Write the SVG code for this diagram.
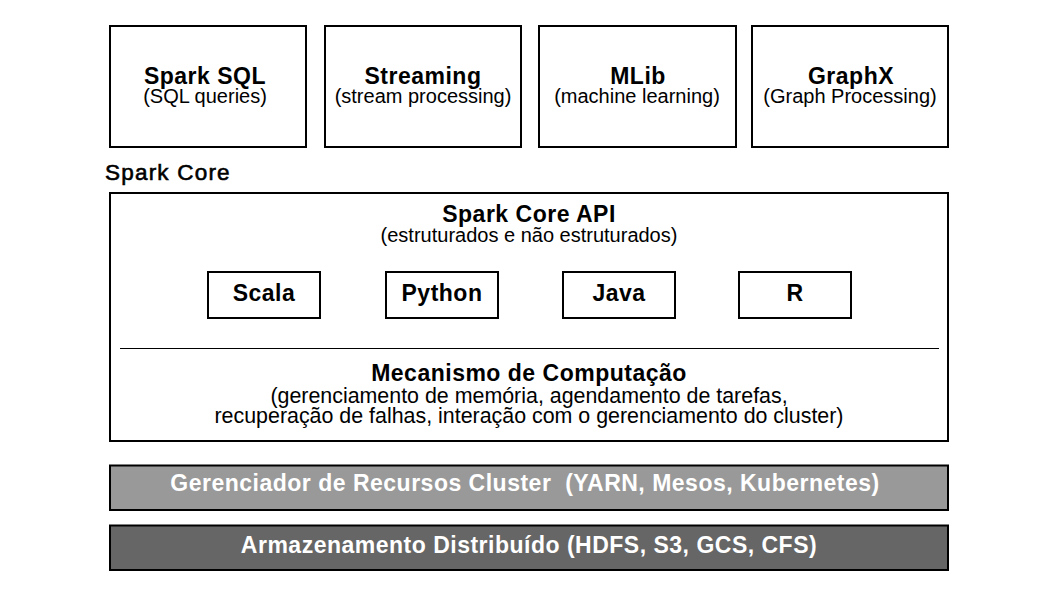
<svg xmlns="http://www.w3.org/2000/svg" width="1058" height="595" viewBox="0 0 1058 595">
<style>
.box{fill:#fff;stroke:#000;stroke-width:2}
.t{font-family:"Liberation Sans",Arial,sans-serif;font-size:23px;font-weight:bold;letter-spacing:0.5px;text-anchor:middle;fill:#000}
.s{font-family:"Liberation Sans",Arial,sans-serif;font-size:20px;text-anchor:middle;fill:#000}
.m{font-size:21.4px}
.w{fill:#fff;white-space:pre}
</style>
<rect width="1058" height="595" fill="#fff"/>
<g id="spark-sql">
<rect class="box" x="110" y="26" width="196" height="121"/>
<text class="t" x="205" y="84">Spark SQL</text>
<text class="s" x="205" y="103">(SQL queries)</text>
</g>
<g id="streaming">
<rect class="box" x="325" y="26" width="196" height="121"/>
<text class="t" x="423" y="84">Streaming</text>
<text class="s" x="423" y="103">(stream processing)</text>
</g>
<g id="mlib">
<rect class="box" x="539" y="26" width="197" height="121"/>
<text class="t" x="638" y="84">MLib</text>
<text class="s" x="637" y="103">(machine learning)</text>
</g>
<g id="graphx">
<rect class="box" x="752" y="26" width="196" height="121"/>
<text class="t" x="851" y="84">GraphX</text>
<text class="s" x="850" y="103">(Graph Processing)</text>
</g>
<g id="spark-core-label">
<text x="105" y="180" font-family="Liberation Sans,Arial,sans-serif" font-size="22.5" letter-spacing="1.2" stroke="#000" stroke-width="0.6" fill="#000">Spark Core</text>
</g>
<g id="spark-core">
<rect class="box" x="110" y="193" width="838" height="248"/>
<text class="t" x="529" y="222">Spark Core API</text>
<text class="s" x="529" y="242">(estruturados e não estruturados)</text>
<line x1="120" y1="348.5" x2="939" y2="348.5" stroke="#000" stroke-width="1"/>
<text class="t" x="529" y="381">Mecanismo de Computação</text>
<text class="s m" x="529" y="403">(gerenciamento de memória, agendamento de tarefas,</text>
<text class="s m" x="529" y="423">recuperação de falhas, interação com o gerenciamento do cluster)</text>
</g>
<g id="scala">
<rect class="box" x="208" y="272" width="112" height="46"/>
<text class="t" x="264" y="301">Scala</text>
</g>
<g id="python">
<rect class="box" x="386" y="272" width="112" height="46"/>
<text class="t" x="442" y="301">Python</text>
</g>
<g id="java">
<rect class="box" x="563" y="272" width="112" height="46"/>
<text class="t" x="619" y="301">Java</text>
</g>
<g id="r">
<rect class="box" x="739" y="272" width="112" height="46"/>
<text class="t" x="795" y="301">R</text>
</g>
<g id="cluster-manager">
<rect x="110" y="465.5" width="838" height="44.5" fill="#999" stroke="#000" stroke-width="2"/>
<text class="t w" x="525" y="491">Gerenciador de Recursos Cluster  (YARN, Mesos, Kubernetes)</text>
</g>
<g id="storage">
<rect x="110" y="525.5" width="838" height="44.5" fill="#666" stroke="#000" stroke-width="2"/>
<text class="t w" x="529" y="553">Armazenamento Distribuído (HDFS, S3, GCS, CFS)</text>
</g>
<g id="connectors"/>
</svg>
